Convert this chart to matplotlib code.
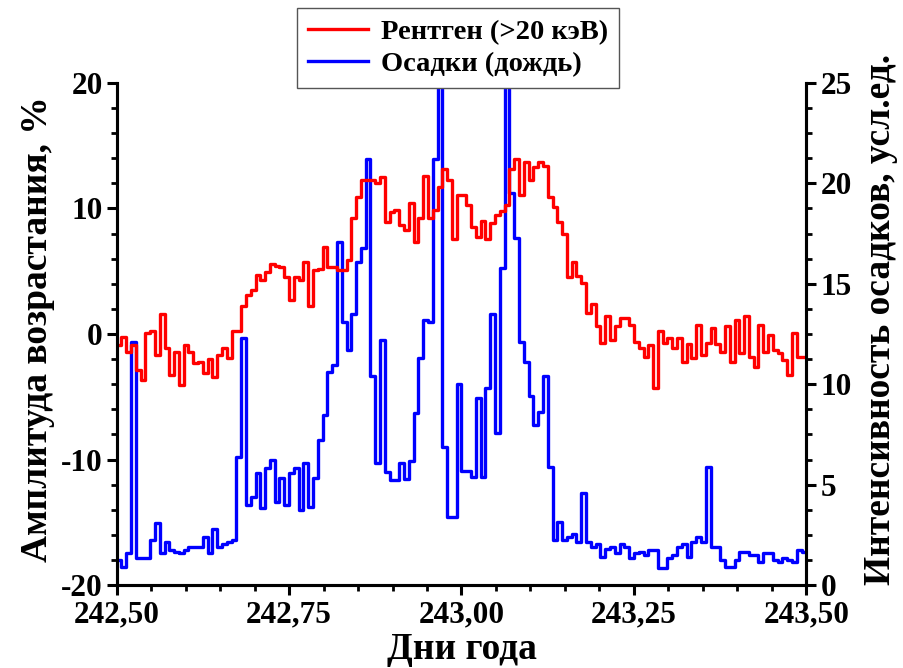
import numpy as np
import matplotlib
matplotlib.use("Agg")
import matplotlib.pyplot as plt
from matplotlib.ticker import MultipleLocator, FuncFormatter

plt.rcParams['font.family'] = ['Liberation Serif', 'DejaVu Serif']
plt.rcParams['font.weight'] = 'bold'
plt.rcParams['axes.unicode_minus'] = False

# 10-minute bins starting at day 242.5
DAY0 = 242.5
STEP = 1.0 / 144

# X-ray amplitude, % (left axis)
xray = [-0.9, -0.2, -1.4, -0.9, -2.9, -3.7, 0.1, 0.2, -1.7, 1.6, -1.1, -3.3, -1.4, -4.1, -0.9, -1.4, -2.3,
        -2.2, -3.1, -2.0, -3.4, -1.7, -1.1, -1.9, 0.2, 0.2, 2.2, 3.1, 3.5, 4.7, 4.3, 4.9, 5.6, 5.4, 5.3, 4.5,
        2.7, 4.5, 4.3, 5.7, 2.2, 5.1, 5.2, 6.9, 5.3, 5.3, 5.1, 5.1, 5.9, 9.2, 10.9, 12.3, 12.3, 12.3,
        12.0, 12.5, 8.9, 9.7, 9.9, 8.7, 8.3, 10.4, 7.3, 9.2, 12.6, 9.2, 9.9, 11.7, 13.1, 12.3, 7.6, 11.1,
        11.1, 10.3, 8.5, 7.7, 9.0, 7.6, 8.8, 9.5, 9.8, 10.3, 13.1, 13.9, 11.1, 13.7, 12.3, 13.3, 13.7, 13.4, 10.9,
        10.1, 8.9, 8.0, 4.5, 5.7, 4.6, 4.1, 1.7, 2.4, 0.6, -0.7, 1.4, -0.5, 0.6, 1.3, 1.3, 0.7,
        -0.6, -1.1, -1.8, -0.9, -4.3, 0.2, -0.7, -0.3, -1.1, -0.3, -2.2, -0.8, -1.9, 0.7, -1.7, -0.7, 0.5,
        -0.8, -1.4,
        0.6, -2.2, 1.1, -1.5, 1.4, -1.8, -2.6, 0.7, -1.4, -0.1, -1.3, -1.5, -2.1, -3.3, 0.1, -1.8, -1.8]

# rain intensity, arb. units (right axis)
rain = [1.25, 0.91, 1.58, 12.1, 1.33, 1.33, 1.33, 2.24, 3.07, 1.58, 2.16, 1.74, 1.66, 1.58, 1.74, 1.91, 1.91,
        1.91, 2.4, 1.58, 2.82, 1.91, 2.07, 2.16, 2.24, 6.39, 12.28,
        4.0, 4.4, 5.56, 3.82, 5.81, 6.22, 4.15, 5.31, 3.98, 5.56, 5.81, 3.73, 6.06, 3.9, 5.31, 7.22, 8.47,
        10.6, 10.96, 17.1,
        13.1, 11.7, 13.5, 16.1, 16.8, 21.2, 10.4, 6.1,
        12.2, 5.64, 5.23, 5.23, 6.1, 5.3, 6.2, 8.55, 11.3, 13.2, 13.1, 21.2, 30.0, 6.9, 3.4, 3.4,
        10.0, 5.7, 5.7, 5.4, 9.3, 5.4, 9.8, 13.5, 7.55, 15.8, 30.0, 19.5, 17.3, 12.1, 11.1, 9.4, 7.97, 8.6, 10.4,
        5.9, 2.24, 3.15, 2.24, 2.4, 2.57, 2.16, 4.57, 2.16, 1.9, 2.07, 1.41, 1.8, 1.91, 1.58, 2.07, 1.91, 1.33,
        1.58, 1.66, 1.5, 1.74, 1.74, 0.84, 0.84, 1.33, 1.5, 1.91, 2.07, 1.41, 2.16, 2.4, 2.16, 5.9, 1.91,
        1.91, 1.25, 0.91, 0.91, 1.25, 1.66, 1.66, 1.5, 1.5, 1.16, 1.58, 1.58, 1.25, 1.16, 1.33, 1.25, 1.16,
        1.74, 1.66]

days = DAY0 + STEP * np.arange(len(xray) + 1)


def edges(vals):
    # repeat last value so the final step reaches the right edge
    return np.append(vals, vals[-1])


fig = plt.figure(figsize=(9.04, 6.68), dpi=100)
ax = fig.add_axes([0.129, 0.124, 0.763, 0.752])
ax2 = ax.twinx()

l1, = ax.step(days, edges(xray), where='post', color='#ff0000', lw=2.4, label='Рентген (>20 кэВ)')
l2, = ax2.step(days, edges(rain), where='post', color='#0000ff', lw=2.4, label='Осадки (дождь)')
ax.set_zorder(ax2.get_zorder() + 1)
ax.patch.set_visible(False)

ax.set_xlim(242.5, 243.5)
ax.set_ylim(-20, 20)
ax2.set_ylim(0, 25)

ax.xaxis.set_major_locator(MultipleLocator(0.25))
ax.xaxis.set_minor_locator(MultipleLocator(0.05))
ax.xaxis.set_major_formatter(FuncFormatter(lambda v, p: f"{v:.2f}".replace('.', ',')))
ax.yaxis.set_major_locator(MultipleLocator(10))
ax.yaxis.set_minor_locator(MultipleLocator(2))
ax2.yaxis.set_major_locator(MultipleLocator(5))
ax2.yaxis.set_minor_locator(MultipleLocator(1.25))

for a in (ax, ax2):
    a.spines['top'].set_visible(False)
    for s in ('left', 'right', 'bottom'):
        a.spines[s].set_linewidth(2.2)
    a.tick_params(which='major', direction='out', length=7, width=2.2, labelsize=22.5, pad=3)
    a.tick_params(which='minor', direction='out', length=4, width=2.0)
ax.tick_params(axis='x', pad=4)

ax.set_xlabel('Дни года', fontsize=27, fontweight='bold', labelpad=2)
ax.set_ylabel('Амплитуда возрастания, %', fontsize=27, fontweight='bold', labelpad=4)
ax2.set_ylabel('Интенсивность осадков, усл.ед.', fontsize=27, fontweight='bold', labelpad=8)
ax.yaxis.label.set_y(0.51)
ax2.yaxis.label.set_y(0.528)

leg = fig.legend(handles=[l1, l2], loc='upper left', bbox_to_anchor=(0.3285, 0.988),
                 borderaxespad=0, prop={'size': 20.5, 'weight': 'bold'}, fancybox=False,
                 edgecolor='#555555', framealpha=1, handlelength=2.1, handletextpad=0.45,
                 labelspacing=0.2, borderpad=0.4)
leg.get_frame().set_linewidth(1.0)

fig.savefig('out.png', dpi=100)
